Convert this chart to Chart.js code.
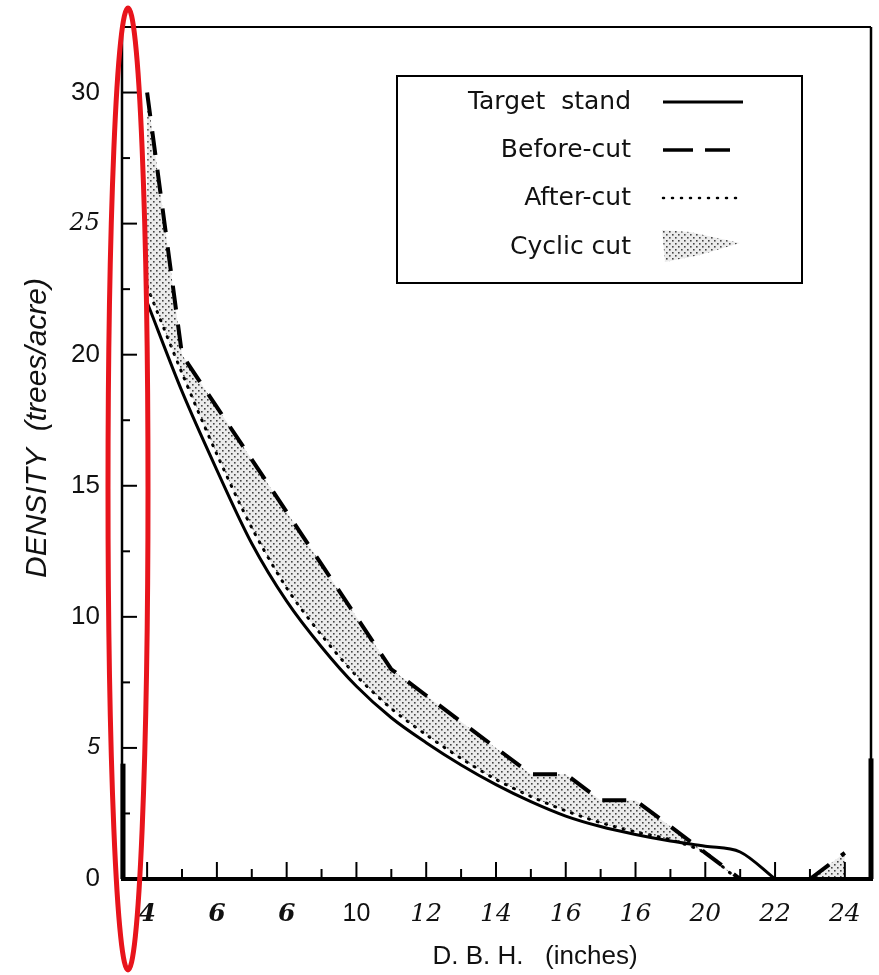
<!DOCTYPE html>
<html>
<head>
<meta charset="utf-8">
<script src="https://cdn.jsdelivr.net/npm/chart.js@4.4.1/dist/chart.umd.min.js"></script>
<style>
  html, body { margin: 0; padding: 0; background: #fff; }
  #wrap { width: 879px; height: 975px; }
</style>
</head>
<body>
<div id="wrap"><canvas id="chart" width="879" height="975"></canvas></div>
<script>
// diameter classes (inches) and densities (trees/acre)
const dbh         = [4, 5, 6, 7, 8, 9, 10, 11, 12, 13, 14, 15, 16, 17, 18, 19, 20, 21, 22, 23, 24];
const targetStand = [22.0, 18.6, 15.6, 12.8, 10.6, 8.85, 7.35, 6.15, 5.2, 4.35, 3.6, 2.95, 2.4, 2.0, 1.7, 1.45, 1.25, 1.03, 0, null, null];
const beforeCut   = [30, 20, 18, 16, 14, 12, 10, 8, 7, 6, 5, 4, 4, 3, 3, 2, 1, 0, 0, 0, 1];
const afterCut    = [22.6, 19.3, 16.2, 13.4, 11.1, 9.3, 7.75, 6.5, 5.5, 4.6, 3.8, 3.15, 2.6, 2.15, 1.8, 1.5, 1.0, 0, 0, 0, 0];

const xTickValues = [4, 6, 8, 10, 12, 14, 16, 18, 20, 22, 24];
const xTickLabels = ['4', '6', '6', '10', '12', '14', '16', '16', '20', '22', '24'];
const yTickValues = [0, 5, 10, 15, 20, 25, 30];
const yTickLabels = ['0', '5', '10', '15', '20', '25', '30'];
const seriesNames = ['Target  stand', 'Before-cut', 'After-cut', 'Cyclic cut'];

function stipple() {
  const p = document.createElement('canvas');
  p.width = 6; p.height = 6;
  const g = p.getContext('2d');
  g.fillStyle = 'rgba(0,0,0,0.08)';
  g.fillRect(0, 0, 6, 6);
  g.fillStyle = '#444';
  g.fillRect(0, 0, 1.6, 1.6);
  g.fillRect(3, 3, 1.6, 1.6);
  return g.createPattern(p, 'repeat');
}
const dots = stipple();

const pts = arr => dbh.map((x, i) => ({ x: x, y: arr[i] }));

// frame, inner ticks, titles, legend, highlight ellipse
const decor = {
  id: 'decor',
  afterDraw(chart) {
    const { ctx, chartArea: a, scales: { x, y } } = chart;
    const line = (x1, y1, x2, y2) => { ctx.beginPath(); ctx.moveTo(x1, y1); ctx.lineTo(x2, y2); ctx.stroke(); };
    ctx.save();
    ctx.strokeStyle = '#000';
    ctx.lineCap = 'butt';

    ctx.lineWidth = 2;
    x.ticks.forEach(t => {
      const px = x.getPixelForValue(t.value);
      line(px, a.bottom, px, a.bottom - (t.value % 2 === 0 ? 17 : 10));
    });
    y.ticks.forEach(t => {
      const py = y.getPixelForValue(t.value);
      line(a.left, py, a.left + (t.value % 5 === 0 ? 15 : 8), py);
    });

    // box
    ctx.lineWidth = 2; line(a.left - 1, a.top, a.right, a.top);
    ctx.lineWidth = 2.5; line(a.left, a.top, a.left, a.bottom);
    ctx.lineWidth = 2.5; line(a.right, a.top, a.right, a.bottom);
    ctx.lineWidth = 4; line(a.left - 1, a.bottom, a.right + 2, a.bottom);
    ctx.lineWidth = 5;
    line(a.left + 1, y.getPixelForValue(4.4), a.left + 1, a.bottom);
    line(a.right, y.getPixelForValue(4.6), a.right, a.bottom);

    // axis titles
    ctx.fillStyle = '#111';
    ctx.font = '26px "Liberation Sans", Arial, sans-serif';
    ctx.textAlign = 'center';
    ctx.textBaseline = 'middle';
    ctx.fillText('D. B. H.   (inches)', 535, a.bottom + 78);
    ctx.save();
    ctx.translate(38, a.top + 401);
    ctx.rotate(-Math.PI / 2);
    ctx.font = 'italic 30px "Liberation Sans", Arial, sans-serif';
    ctx.fillText('DENSITY  (trees/acre)', 0, 0);
    ctx.restore();

    // legend
    const L = { x: 397, y: 76, w: 405, h: 207 };
    ctx.lineWidth = 2;
    ctx.strokeRect(L.x, L.y, L.w, L.h);
    ctx.font = '25px "DejaVu Sans", sans-serif';
    ctx.textAlign = 'right';
    const rows = [102, 150, 198, 247];
    seriesNames.forEach((n, i) => ctx.fillText(n, 631, rows[i]));
    ctx.lineWidth = 3;
    line(663, rows[0], 743, rows[0]);
    ctx.lineWidth = 3.5;
    line(663, rows[1], 693, rows[1]);
    line(705, rows[1], 730, rows[1]);
    ctx.lineWidth = 2.5;
    ctx.setLineDash([1, 8]);
    ctx.lineCap = 'round';
    line(663, rows[2], 738, rows[2]);
    ctx.setLineDash([]);
    ctx.fillStyle = dots;
    ctx.beginPath();
    ctx.moveTo(662, 230); ctx.lineTo(690, 232); ctx.lineTo(740, 243);
    ctx.lineTo(700, 255); ctx.lineTo(665, 262); ctx.closePath();
    ctx.fill();

    // red highlight round the y axis
    const top = a.top - 19, bot = a.bottom + 91;
    ctx.strokeStyle = '#e8141c';
    ctx.lineWidth = 5;
    ctx.beginPath();
    ctx.ellipse(a.left + 6, (top + bot) / 2, 20, (bot - top) / 2, 0, 0, Math.PI * 2);
    ctx.stroke();
    ctx.restore();
  }
};

new Chart(document.getElementById('chart').getContext('2d'), {
  type: 'line',
  data: {
    datasets: [
      { label: seriesNames[0], data: pts(targetStand), borderColor: '#000', borderWidth: 3,
        cubicInterpolationMode: 'monotone', pointRadius: 0, fill: false },
      { label: seriesNames[1], data: pts(beforeCut), borderColor: '#000', borderWidth: 4,
        borderDash: [24, 15], tension: 0, pointRadius: 0, fill: 2, backgroundColor: dots },
      { label: seriesNames[2], data: pts(afterCut), borderColor: '#000', borderWidth: 3,
        borderDash: [1, 8], borderCapStyle: 'round', tension: 0.3, pointRadius: 0, fill: false }
    ]
  },
  options: {
    responsive: false,
    animation: false,
    layout: { padding: { top: 27, right: 8, left: 0, bottom: 0 } },
    plugins: { legend: { display: false }, tooltip: { enabled: false } },
    scales: {
      x: {
        type: 'linear', min: 3.28, max: 24.75,
        afterBuildTicks: s => { s.ticks = dbh.map(v => ({ value: v })); },
        afterFit: s => { s.height = 96; s.paddingLeft = 0; s.paddingRight = 0; },
        grid: { display: false, drawTicks: false },
        border: { display: false },
        ticks: {
          autoSkip: false, maxRotation: 0, padding: 20, color: '#111',
          callback: v => { const i = xTickValues.indexOf(v); return i < 0 ? '' : xTickLabels[i]; },
          font: c => {
            const v = c.tick ? c.tick.value : 0;
            if (v === 10) return { family: '"Liberation Sans", Arial, sans-serif', size: 25 };
            if (v <= 8) return { family: '"DejaVu Serif", serif', size: 25, style: 'italic', weight: 'bold' };
            return { family: '"DejaVu Serif", serif', size: 25, style: 'italic' };
          }
        }
      },
      y: {
        min: 0, max: 32.5,
        afterBuildTicks: s => { s.ticks = s.ticks.filter(t => t.value <= 30); },
        afterFit: s => { s.width = 122; s.paddingTop = 0; s.paddingBottom = 0; },
        grid: { display: false, drawTicks: false },
        border: { display: false },
        ticks: {
          stepSize: 2.5, padding: 22, color: '#111',
          callback: v => { const i = yTickValues.indexOf(v); return i < 0 ? '' : yTickLabels[i]; },
          font: c => {
            const v = c.tick ? c.tick.value : 0;
            if (v === 25) return { family: '"DejaVu Serif", serif', size: 24, style: 'italic', weight: 'normal' };
            if (v === 5) return { family: '"Liberation Sans", Arial, sans-serif', size: 23, style: 'italic' };
            return { family: '"Liberation Sans", Arial, sans-serif', size: 26 };
          }
        }
      }
    }
  },
  plugins: [decor]
});
</script>
</body>
</html>
